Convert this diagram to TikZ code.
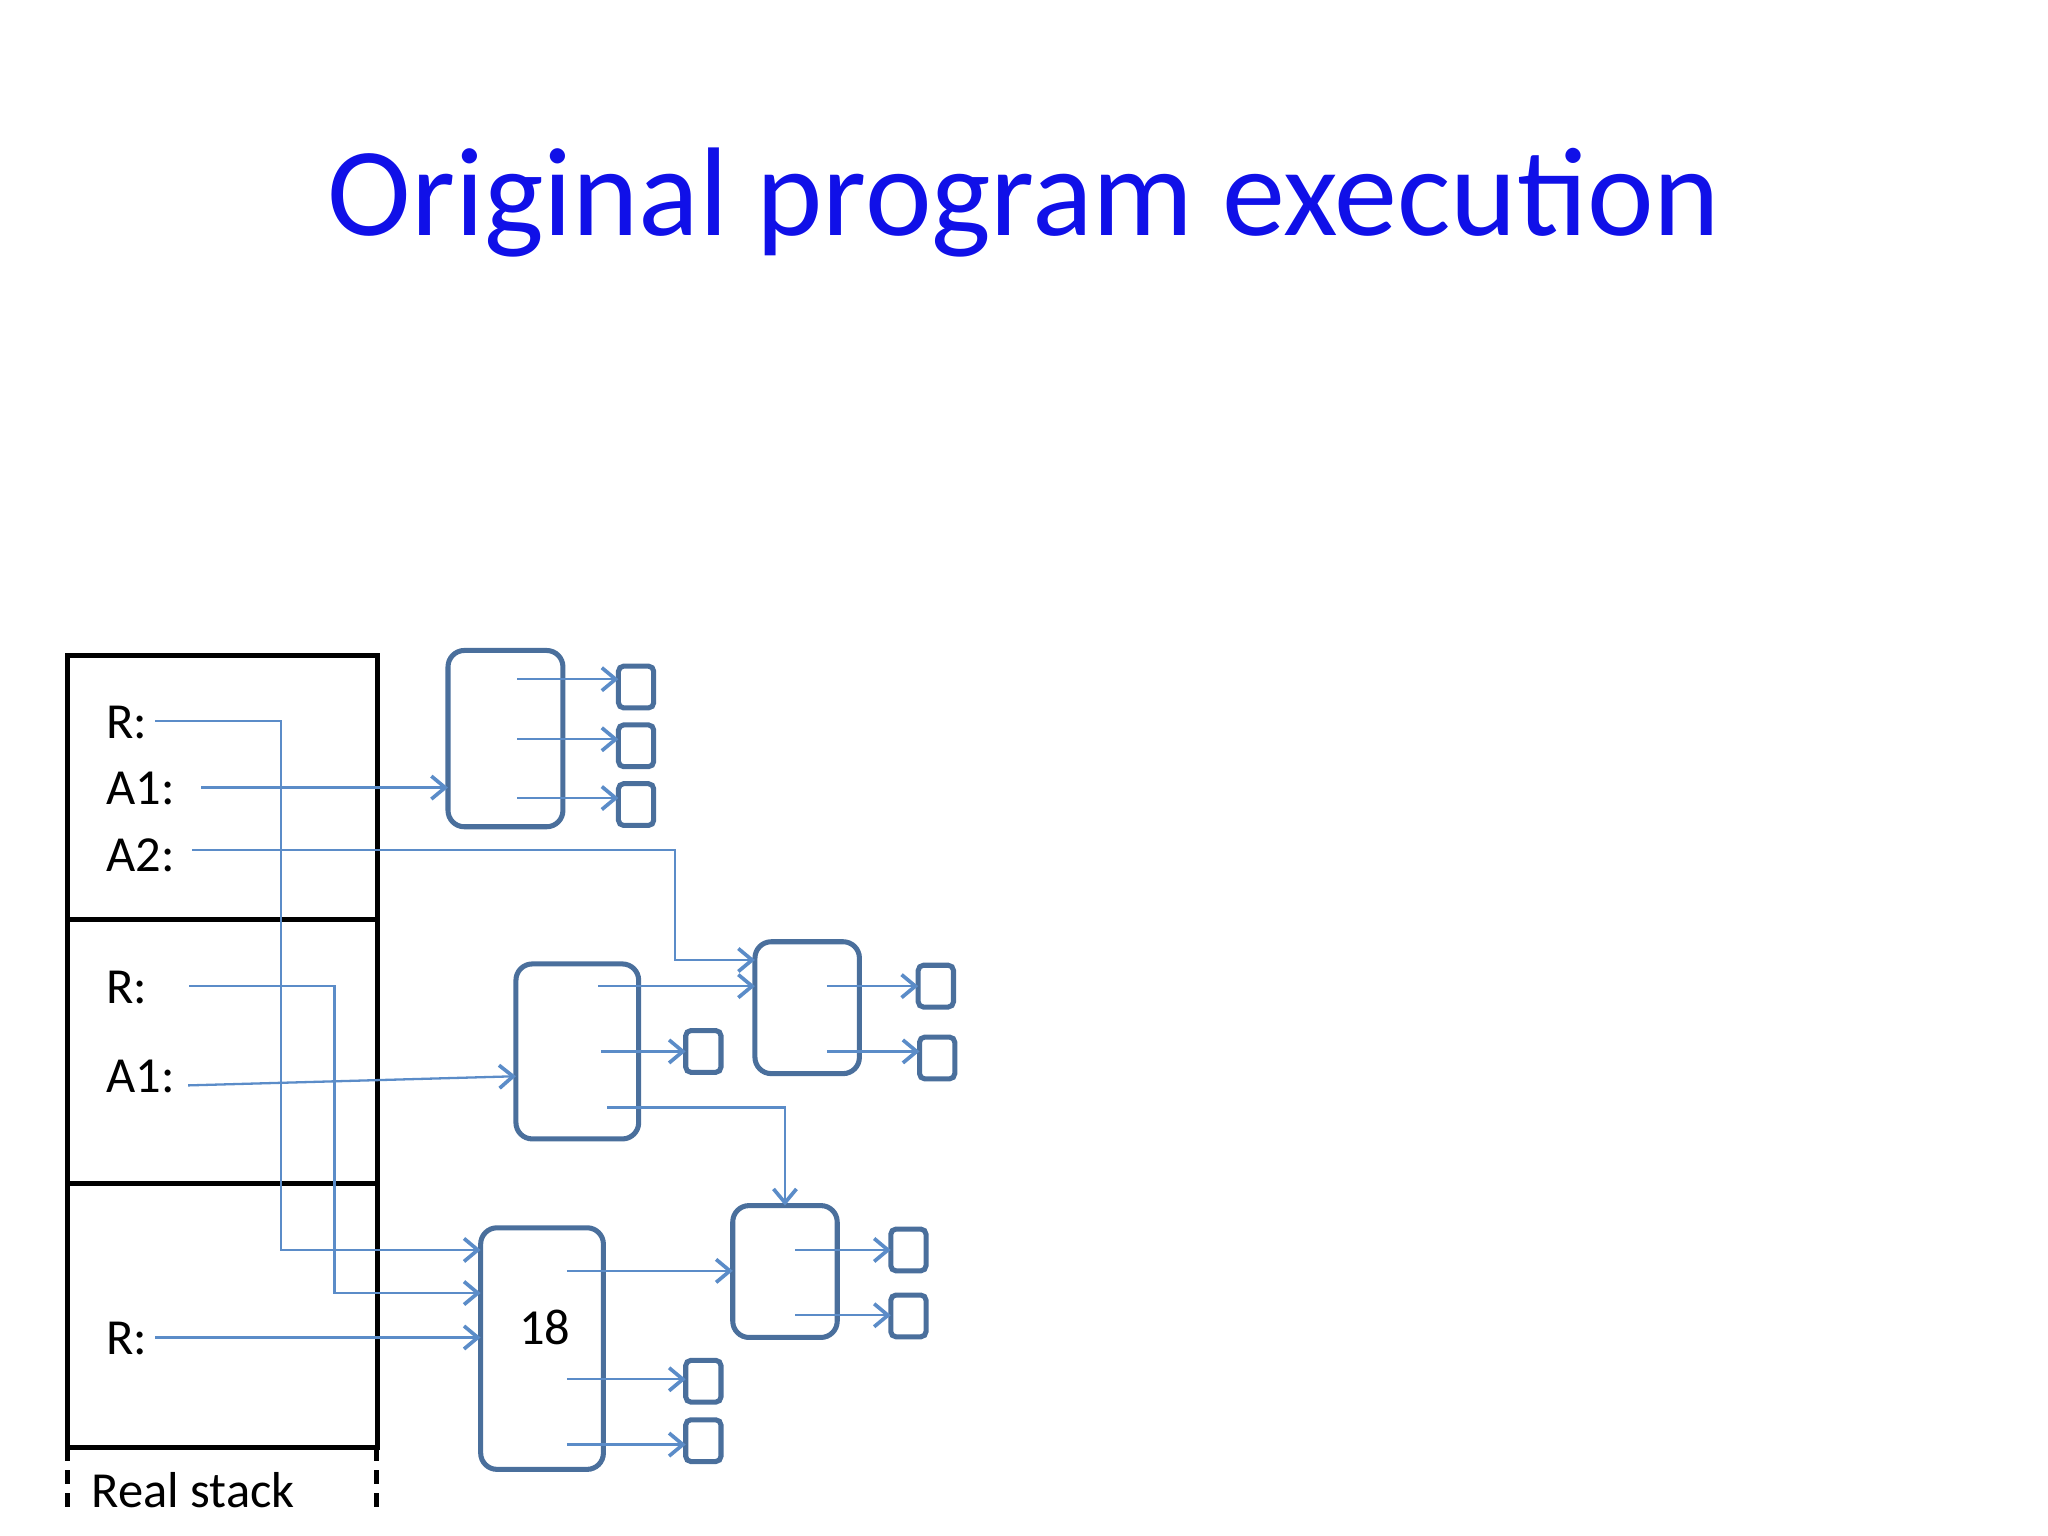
\documentclass[tikz,border=0pt]{standalone}
\usepackage{fontspec}
\setmainfont{Carlito}
\usetikzlibrary{arrows.meta}
\definecolor{bxc}{HTML}{4A6F9C}
\definecolor{lnc}{HTML}{5B8CC8}
\definecolor{ttl}{HTML}{1010E8}
\begin{document}
\begin{tikzpicture}[x=0.02cm,y=-0.02cm,
  bx/.style={draw=bxc,line width=2.2pt,rounded corners=0.25cm,inner sep=0,outer sep=0},
  sq/.style={draw=bxc,line width=2.2pt,rounded corners=0.08cm,minimum width=0.54cm,minimum height=0.64cm,inner sep=0,outer sep=0},
  ln/.style={draw=lnc,line width=1pt},
  ar/.style={ln,-{Straight Barb[length=6pt,width=10pt,line width=1.6pt]}},
  lab/.style={font=\fontsize{22}{24}\selectfont,anchor=west,inner sep=0},
  frame/.style={draw=black,line width=2.2pt}]
\useasboundingbox (0,0) rectangle (1568,1176);
\node[text=ttl,font=\fontsize{55}{62}\selectfont] (title) at (784,155) {Original program execution};
% stack
\draw[frame] (52,502) rectangle (289,704);
\draw[frame] (52,704) rectangle (289,906);
\draw[frame] (52,906) rectangle (289,1108);
\draw[black,line width=2.2pt,dash pattern=on 6pt off 4pt] (52,1108) -- (52,1160) (288,1108) -- (288,1160);
\node[font=\fontsize{22}{24}\selectfont] (rs) at (148,1141) {Real stack};
\node[lab] (l1) at (81,553) {R:};
\node[lab] (l2) at (81,604) {A1:};
\node[lab] (l3) at (81,655) {A2:};
\node[lab] (l4) at (81,756) {R:};
\node[lab] (l5) at (81,824) {A1:};
\node[lab] (l6) at (81,1025) {R:};
% boxes
\node[bx,minimum width=1.76cm,minimum height=2.7cm] (b1) at (387,565.5) {};
\node[bx,minimum width=1.88cm,minimum height=2.68cm] (b2) at (442,805) {};
\node[bx,minimum width=1.6cm,minimum height=2.02cm] (b3) at (618,771.5) {};
\node[bx,minimum width=1.88cm,minimum height=3.7cm] (b4) at (415,1032.5) {};
\node[font=\fontsize{22}{24}\selectfont] (n18) at (417,1016) {18};
\node[bx,minimum width=1.6cm,minimum height=2.02cm] (b5) at (601,973.5) {};
\node[sq] (s1) at (487,526) {};
\node[sq] (s2) at (487,571) {};
\node[sq] (s3) at (487,616) {};
\node[sq] (s4) at (538.5,805) {};
\node[sq] (s5) at (716.5,755) {};
\node[sq] (s6) at (717.5,810) {};
\node[sq] (s7) at (538.5,1057.5) {};
\node[sq] (s8) at (538.5,1103) {};
\node[sq] (s9) at (695.5,957) {};
\node[sq] (s10) at (695.5,1007.5) {};
% inner arrows
\coordinate (c1) at (396,520); \draw[ar] (c1) -- (c1 -| s1.west);
\coordinate (c2) at (396,566); \draw[ar] (c2) -- (c2 -| s2.west);
\coordinate (c3) at (396,611); \draw[ar] (c3) -- (c3 -| s3.west);
\coordinate (c4) at (460,805); \draw[ar] (c4) -- (c4 -| s4.west);
\coordinate (c5) at (633,755); \draw[ar] (c5) -- (c5 -| s5.west);
\coordinate (c6) at (633,805); \draw[ar] (c6) -- (c6 -| s6.west);
\coordinate (c7) at (434,1056); \draw[ar] (c7) -- (c7 -| s7.west);
\coordinate (c8) at (434,1106); \draw[ar] (c8) -- (c8 -| s8.west);
\coordinate (c9) at (609,957); \draw[ar] (c9) -- (c9 -| s9.west);
\coordinate (c10) at (609,1007); \draw[ar] (c10) -- (c10 -| s10.west);
\coordinate (c11) at (434,973); \draw[ar] (c11) -- (c11 -| b5.west);
\coordinate (c12) at (458,755); \draw[ar] (c12) -- (c12 -| b3.west);
\coordinate (c13) at (465,848); \draw[ar] (c13) -| (b5.north);
% stack pointers
\coordinate (p1) at (119,552); \coordinate (k1) at (215,957);
\draw[ar] (p1) -| (k1) -- (k1 -| b4.west);
\coordinate (p2) at (154,603); \draw[ar] (p2) -- (p2 -| b1.west);
\coordinate (p3) at (147,651); \coordinate (k3) at (517,735);
\draw[ar] (p3) -| (k3) -- (k3 -| b3.west);
\coordinate (p4) at (145,755); \coordinate (k4) at (256,990);
\draw[ar] (p4) -| (k4) -- (k4 -| b4.west);
\coordinate (p5) at (144,831); \draw[ar] (p5) -- (b2.west |- 0,824);
\coordinate (p6) at (119,1024); \draw[ar] (p6) -- (p6 -| b4.west);
\end{tikzpicture}
\end{document}
